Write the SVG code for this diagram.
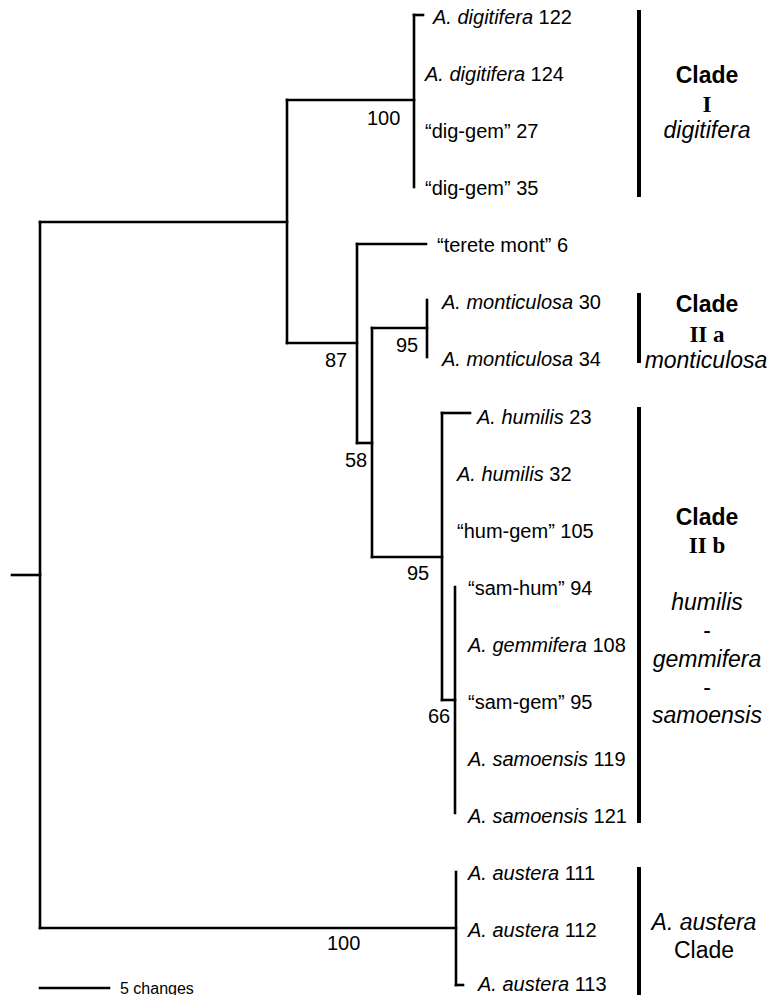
<svg xmlns="http://www.w3.org/2000/svg" width="783" height="995" viewBox="0 0 783 995">
<style>
  .br { stroke: #000; stroke-width: 2.6; fill: none; stroke-linecap: square; }
  .bar { stroke: #000; stroke-width: 4; fill: none; }
  text { font-family: "Liberation Sans", Arial, sans-serif; fill: #000; }
  .tx { font-size: 20px; }
  .bs { font-size: 20px; }
  .it { font-style: italic; }
  .cl { font-size: 23px; text-anchor: middle; }
  .clb { font-size: 23px; font-weight: bold; text-anchor: middle; }
  .rom { font-family: "Liberation Serif", "Times New Roman", serif; font-size: 23px; font-weight: bold; text-anchor: middle; }
  .sc { font-size: 16px; }
</style>
<rect width="783" height="995" fill="#fff"/>
<g id="connectors">
  <path class="br" d="M12 575 H40"/>
  <path class="br" d="M40 222 V928"/>
  <path class="br" d="M40 222 H287"/>
  <path class="br" d="M287 100 V343"/>
  <path class="br" d="M287 100 H414"/>
  <path class="br" d="M414 15 V187"/>
  <path class="br" d="M414 15 H423"/>
  <path class="br" d="M287 343 H357"/>
  <path class="br" d="M357 244 V443"/>
  <path class="br" d="M357 244 H426"/>
  <path class="br" d="M357 443 H372"/>
  <path class="br" d="M372 328 V557"/>
  <path class="br" d="M372 328 H427"/>
  <path class="br" d="M427 300 V357"/>
  <path class="br" d="M372 557 H442"/>
  <path class="br" d="M442 413 V700"/>
  <path class="br" d="M442 413 H470"/>
  <path class="br" d="M442 700 H455"/>
  <path class="br" d="M455 587 V813"/>
  <path class="br" d="M40 928 H456"/>
  <path class="br" d="M456 872 V985"/>
  <path class="br" d="M456 985 H463"/>
  <path class="br" d="M40 988 H109"/>
</g>
<g id="support">
  <text class="bs" x="367" y="125">100</text>
  <text class="bs" x="325" y="367">87</text>
  <text class="bs" x="396" y="352">95</text>
  <text class="bs" x="345" y="467">58</text>
  <text class="bs" x="407" y="580">95</text>
  <text class="bs" x="428" y="723">66</text>
  <text class="bs" x="327" y="950">100</text>
</g>
<g id="t-dig122"><text class="tx" x="433" y="24"><tspan class="it">A. digitifera</tspan> 122</text></g>
<g id="t-dig124"><text class="tx" x="425" y="81"><tspan class="it">A. digitifera</tspan> 124</text></g>
<g id="t-diggem27"><text class="tx" x="425" y="138">“dig-gem” 27</text></g>
<g id="t-diggem35"><text class="tx" x="425" y="195">“dig-gem” 35</text></g>
<g id="t-terete6"><text class="tx" x="437" y="252">“terete mont” 6</text></g>
<g id="t-mont30"><text class="tx" x="442" y="309"><tspan class="it">A. monticulosa</tspan> 30</text></g>
<g id="t-mont34"><text class="tx" x="442" y="366"><tspan class="it">A. monticulosa</tspan> 34</text></g>
<g id="t-hum23"><text class="tx" x="477" y="424"><tspan class="it">A. humilis</tspan> 23</text></g>
<g id="t-hum32"><text class="tx" x="457" y="481"><tspan class="it">A. humilis</tspan> 32</text></g>
<g id="t-humgem105"><text class="tx" x="457" y="538">“hum-gem” 105</text></g>
<g id="t-samhum94"><text class="tx" x="468" y="595">“sam-hum” 94</text></g>
<g id="t-gem108"><text class="tx" x="468" y="652"><tspan class="it">A. gemmifera</tspan> 108</text></g>
<g id="t-samgem95"><text class="tx" x="468" y="709">“sam-gem” 95</text></g>
<g id="t-sam119"><text class="tx" x="468" y="766"><tspan class="it">A. samoensis</tspan> 119</text></g>
<g id="t-sam121"><text class="tx" x="468" y="823"><tspan class="it">A. samoensis</tspan> 121</text></g>
<g id="t-aus111"><text class="tx" x="468" y="880"><tspan class="it">A. austera</tspan> 111</text></g>
<g id="t-aus112"><text class="tx" x="468" y="937"><tspan class="it">A. austera</tspan> 112</text></g>
<g id="t-aus113"><text class="tx" x="478" y="991"><tspan class="it">A. austera</tspan> 113</text></g>
<g id="clade-I">
  <path class="bar" d="M639 10 V197"/>
  <text class="clb" x="707" y="83">Clade</text>
  <text class="rom" x="707" y="112">I</text>
  <text class="cl it" x="707" y="138">digitifera</text>
</g>
<g id="clade-IIa">
  <path class="bar" d="M639 293 V363"/>
  <text class="clb" x="707" y="312">Clade</text>
  <text class="rom" x="707" y="342">II a</text>
  <text class="cl it" x="706" y="368">monticulosa</text>
</g>
<g id="clade-IIb">
  <path class="bar" d="M639 407 V823"/>
  <text class="clb" x="707" y="525">Clade</text>
  <text class="rom" x="707" y="553">II b</text>
  <text class="cl it" x="707" y="610">humilis</text>
  <text class="cl" x="707" y="638">-</text>
  <text class="cl it" x="707" y="667">gemmifera</text>
  <text class="cl" x="707" y="695">-</text>
  <text class="cl it" x="707" y="723">samoensis</text>
</g>
<g id="clade-austera">
  <path class="bar" d="M639 867 V995"/>
  <text class="cl it" x="704" y="930">A. austera</text>
  <text class="cl" x="704" y="958">Clade</text>
</g>
<g id="scale">
  <text class="sc" x="120" y="994">5 changes</text>
</g>
</svg>
